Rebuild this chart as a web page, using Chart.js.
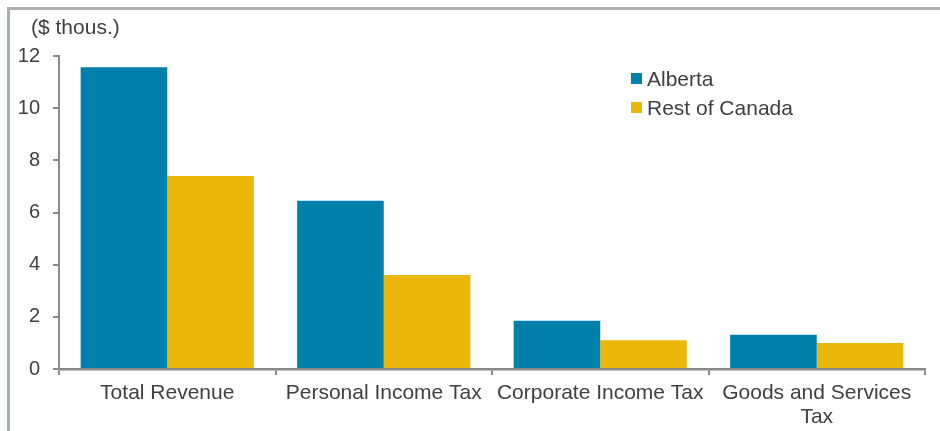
<!DOCTYPE html>
<html>
<head>
<meta charset="utf-8">
<script src="https://cdn.jsdelivr.net/npm/chart.js@4"></script>
<style>
  html, body { margin: 0; padding: 0; background: #fff; }
  body { width: 940px; height: 431px; position: relative; overflow: hidden; font-family: "Liberation Sans", Arial, sans-serif; }
  #wrap { position: absolute; left: 0; top: 0; width: 940px; height: 431px; }
  .frameL { position: absolute; left: 7px; top: 7px; width: 3px; height: 430px; background: #A9AFB2; }
  .frameT { position: absolute; left: 7px; top: 7px; width: 940px; height: 3px; background: #A9AFB2; }
  #unit { position: absolute; left: 31px; top: 15px; font-size: 21px; color: #404040; line-height: 24px; }
  #legend { position: absolute; left: 631px; top: 64px; font-size: 21px; color: #404040; }
  .li { position: relative; height: 29px; line-height: 29px; padding-left: 16px; white-space: nowrap; }
  .sw { position: absolute; left: 0; top: 9px; width: 11px; height: 11px; }
</style>
</head>
<body>
<div id="wrap"><canvas id="c" width="940" height="431"></canvas></div>
<div class="frameL"></div>
<div class="frameT"></div>
<div id="unit">($ thous.)</div>
<div id="legend"></div>
<script>
const categories = ["Total Revenue", "Personal Income Tax", "Corporate Income Tax", ["Goods and Services", "Tax"]];
const seriesNames = ["Alberta", "Rest of Canada"];
const seriesColors = ["#0080AA", "#EBB70A"];
const albertaValues = [11.57, 6.45, 1.85, 1.31];
const restOfCanadaValues = [7.4, 3.6, 1.1, 1.0];
const yTicks = [0, 2, 4, 6, 8, 10, 12];

const textColor = "#404040";
const axisColor = "#8A8A8A";
const fontFamily = "'Liberation Sans', Arial, sans-serif";

const legend = document.getElementById("legend");
seriesNames.forEach((name, i) => {
  const d = document.createElement("div");
  d.className = "li";
  const s = document.createElement("span");
  s.className = "sw";
  s.style.background = seriesColors[i];
  d.appendChild(s);
  d.appendChild(document.createTextNode(name));
  legend.appendChild(d);
});

new Chart(document.getElementById("c"), {
  type: "bar",
  data: {
    labels: categories,
    datasets: [
      { label: seriesNames[0], data: albertaValues, backgroundColor: seriesColors[0], borderWidth: 0 },
      { label: seriesNames[1], data: restOfCanadaValues, backgroundColor: seriesColors[1], borderWidth: 0 }
    ]
  },
  options: {
    responsive: false,
    animation: false,
    devicePixelRatio: 1,
    layout: { padding: { top: 56, right: 15, left: 0, bottom: 0 } },
    plugins: { legend: { display: false }, tooltip: { enabled: false } },
    datasets: { bar: { categoryPercentage: 0.8, barPercentage: 1.0 } },
    scales: {
      x: {
        grid: { display: true, drawOnChartArea: false, drawTicks: true, tickLength: 6, color: axisColor, lineWidth: 2, offset: true },
        border: { display: true, color: axisColor, width: 2.5 },
        ticks: { color: textColor, font: { family: fontFamily, size: 21, lineHeight: 1.15 }, padding: 6, maxRotation: 0, autoSkip: false },
        afterFit: (s) => { s.height = 62; }
      },
      y: {
        min: 0, max: 12,
        afterBuildTicks: (s) => { s.ticks = yTicks.map(v => ({ value: v })); },
        grid: { display: true, drawOnChartArea: false, drawTicks: true, tickLength: 6, color: axisColor, lineWidth: 2 },
        border: { display: true, color: axisColor, width: 2 },
        ticks: { color: textColor, font: { family: fontFamily, size: 20 }, padding: 13 },
        afterFit: (s) => { s.width = 59; }
      }
    }
  }
});
</script>
</body>
</html>
